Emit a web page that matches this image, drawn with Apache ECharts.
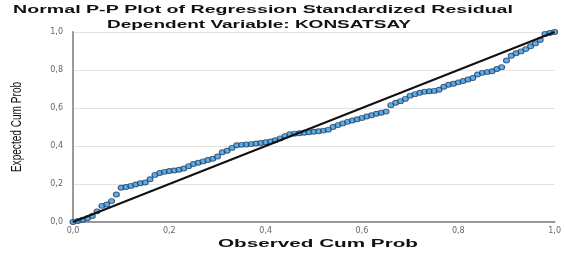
<!DOCTYPE html>
<html><head><meta charset="utf-8">
<script src="https://cdn.jsdelivr.net/npm/echarts@6/dist/echarts.min.js"></script>
<style>html,body{margin:0;padding:0;background:#fff}#c{width:564px;height:255px}</style>
</head><body><div id="c"></div>
<script>
const titleLine1 = 'Normal P-P Plot of Regression Standardized Residual';
const titleLine2 = 'Dependent Variable: KONSATSAY';
const xAxisName = 'Observed Cum Prob';
const yAxisName = 'Expected Cum Prob';
const tickValues = [0, 0.2, 0.4, 0.6, 0.8, 1.0];
const observedCumProb = [0.00,0.01,0.02,0.03,0.04,0.05,0.06,0.07,0.08,0.09,0.10,0.11,0.12,0.13,0.14,0.15,0.16,0.17,0.18,0.19,0.20,0.21,0.22,0.23,0.24,0.25,0.26,0.27,0.28,0.29,0.30,0.31,0.32,0.33,0.34,0.35,0.36,0.37,0.38,0.39,0.40,0.41,0.42,0.43,0.44,0.45,0.46,0.47,0.48,0.49,0.50,0.51,0.52,0.53,0.54,0.55,0.56,0.57,0.58,0.59,0.60,0.61,0.62,0.63,0.64,0.65,0.66,0.67,0.68,0.69,0.70,0.71,0.72,0.73,0.74,0.75,0.76,0.77,0.78,0.79,0.80,0.81,0.82,0.83,0.84,0.85,0.86,0.87,0.88,0.89,0.90,0.91,0.92,0.93,0.94,0.95,0.96,0.97,0.98,0.99,1.00];
const expectedCumProb = [0.0,0.005,0.012,0.02,0.032,0.056,0.085,0.092,0.11,0.145,0.18,0.184,0.19,0.197,0.204,0.208,0.225,0.248,0.258,0.264,0.268,0.271,0.275,0.282,0.294,0.305,0.312,0.319,0.326,0.333,0.345,0.367,0.375,0.39,0.404,0.406,0.408,0.41,0.413,0.416,0.42,0.424,0.43,0.44,0.452,0.462,0.465,0.467,0.47,0.472,0.475,0.478,0.481,0.486,0.5,0.51,0.519,0.527,0.534,0.541,0.548,0.555,0.562,0.57,0.575,0.581,0.615,0.628,0.636,0.648,0.665,0.673,0.68,0.686,0.688,0.69,0.696,0.712,0.722,0.728,0.735,0.742,0.75,0.758,0.776,0.785,0.789,0.793,0.805,0.815,0.85,0.875,0.888,0.898,0.91,0.925,0.94,0.958,0.99,0.995,1.0];
const refLineX = [0, 1];
const refLineY = [0, 1];

const chart = echarts.init(document.getElementById('c'));
const pts = observedCumProb.map((x, i) => [x, expectedCumProb[i]]);
const fmt = v => v.toFixed(1).replace('.', ',');
chart.setOption({
  animation: false,
  grid: {left: 73, right: 6, top: 32, bottom: 33},
  xAxis: {
    type: 'value', min: 0, max: 1, interval: 0.2,
    axisLine: {lineStyle: {color: '#999', width: 2}},
    axisTick: {show: false},
    splitLine: {show: false},
    axisLabel: {formatter: fmt, fontFamily: 'DejaVu Sans', fontSize: 8, color: '#666', margin: 5}
  },
  yAxis: {
    type: 'value', min: 0, max: 1, interval: 0.2,
    axisLine: {show: true, lineStyle: {color: '#999', width: 2}},
    axisTick: {show: false},
    splitLine: {lineStyle: {color: '#e2e2e2', width: 1}},
    axisLabel: {formatter: fmt, fontFamily: 'DejaVu Sans', fontSize: 8, color: '#666', margin: 10}
  },
  graphic: [
    {type: 'text', x: 263, y: 10, scaleX: 1.96, style: {text: titleLine1, font: 'bold 10px "Liberation Sans"', fill: '#111', align: 'center', verticalAlign: 'middle'}},
    {type: 'text', x: 259, y: 25.5, scaleX: 1.9, style: {text: titleLine2, font: 'bold 10px "Liberation Sans"', fill: '#111', align: 'center', verticalAlign: 'middle'}},
    {type: 'text', x: 318, y: 244, scaleX: 1.88, style: {text: xAxisName, font: 'bold 11px "Liberation Sans"', fill: '#111', align: 'center', verticalAlign: 'middle'}},
    {type: 'text', x: 17, y: 127, rotation: Math.PI / 2, scaleX: 0.72, style: {text: yAxisName, font: '14px "Liberation Sans"', fill: '#111', align: 'center', verticalAlign: 'middle'}}
  ],
  series: [
    {type: 'line', data: refLineX.map((x, i) => [x, refLineY[i]]), symbol: 'none', lineStyle: {color: '#111', width: 2}, z: 3},
    {type: 'scatter', data: pts, symbol: 'circle', symbolSize: [6, 5], itemStyle: {color: '#3a97da', borderColor: '#1d3f66', borderWidth: 1}, z: 2}
  ]
});
</script></body></html>
